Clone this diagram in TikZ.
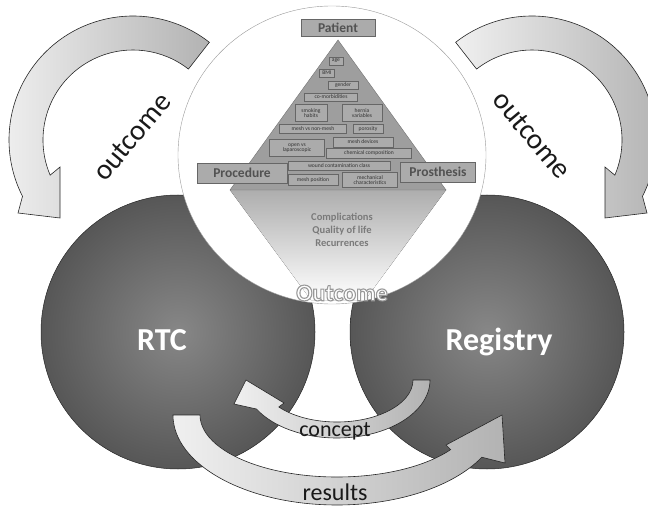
\documentclass[tikz,border=0pt]{standalone}
\usepackage{fontspec}
\setmainfont{Carlito}
\usepackage{tikz}
\usetikzlibrary{calc,shapes.geometric}
\tikzset{blob/.style={circle,draw=black!85,line width=0.5pt,shading=radial,inner color=black!47,outer color=black!66,inner sep=0pt},
  studylbl/.style={text=white,font=\bfseries\fontsize{32}{34}\selectfont},
  item/.style={draw=black!60,fill=black!33,inner sep=0.4pt,align=center,text=black!80,font=\fontsize{5.6}{5.8}\selectfont},
  mainbox/.style={item,font=\bfseries\fontsize{13.5}{14}\selectfont,text=black!68},
  band/.style={draw=black!85,line width=0.6pt,left color=black!6,right color=black!30},
  arrlbl/.style={text=black!90,font=\fontsize{#1}{#1}\selectfont},
  outc/.style={text=white,font=\bfseries\fontsize{24}{26}\selectfont}}
% white word with a grey rim (fill and stroke the glyphs)
\newcommand\rimtext[1]{\special{pdf:literal 2 Tr 1.1 w 0.6 G}#1\special{pdf:literal 0 Tr 0 G}}

\begin{document}
\begin{tikzpicture}[x=1pt,y=1pt]
\useasboundingbox (0,0) rectangle (648,507);
% the two kinds of study
\node[blob,minimum size=274] (rtc) at (178,175) {};
\node[blob,minimum size=274] (reg) at (487,175) {};
\node[studylbl,anchor=base] (rtclbl) at (162,157) {RTC};
\node[studylbl,anchor=base] (reglbl) at (499,157) {Registry};

% white disc with the pyramid
\node[ellipse,draw=black!40,fill=white,minimum width=308,minimum height=298,inner sep=0pt] (disc) at (332,352) {};
\fill[top color=black!32,bottom color=white] (230,317) -- (446,317) -- (365,207) -- (311,207) -- cycle;
\filldraw[fill=black!38,draw=black!55] (338,467) -- (446,317) -- (230,317) -- cycle;

\node[mainbox,minimum width=74,minimum height=17] (patient) at (338,479) {Patient};
\node[item,minimum width=14,minimum height=8] (age) at (336,446) {age};
\node[item,minimum width=15,minimum height=8] (bmi) at (327,434) {BMI};
\node[item,minimum width=30,minimum height=8] (gender) at (343,422) {gender};
\node[item,minimum width=53,minimum height=8] (comorb) at (331,410) {co-morbidities};
\node[item,minimum width=32,minimum height=17] (smoke) at (311,394) {smoking\\habits};
\node[item,minimum width=40,minimum height=17] (hernia) at (362,394) {hernia\\variables};
\node[item,minimum width=67,minimum height=9] (meshvs) at (313,378) {mesh vs non-mesh};
\node[item,minimum width=30,minimum height=9] (poros) at (368,378) {porosity};
\node[item,minimum width=60,minimum height=10] (meshdev) at (363,365) {mesh devices};
\node[item,minimum width=55,minimum height=17] (openlap) at (297,359) {open vs\\laparoscopic};
\node[item,minimum width=85,minimum height=10] (chem) at (369,354) {chemical composition};
\node[item,minimum width=102,minimum height=9] (wound) at (339,341) {wound contamination class};
\node[mainbox,minimum width=90,minimum height=20] (proc) at (242,334) {Procedure};
\node[item,minimum width=50,minimum height=11] (meshpos) at (313,327) {mesh position};
\node[item,minimum width=55,minimum height=15] (mech) at (370,327) {mechanical\\characteristics};
\node[mainbox,minimum width=75,minimum height=20] (prosth) at (438,335) {Prosthesis};

\node[align=center,text=black!52,font=\bfseries\fontsize{10.5}{13}\selectfont] (res) at (342,277) {Complications\\Quality of life\\Recurrences};
\node[outc] (outcome) at (342,214) {\rimtext{Outcome}};

% curved arrows
\coordinate (cL) at (133,367);
\coordinate (cR) at (532,367);
\coordinate (cC) at (337,127);
\coordinate (cS) at (337,92);
\draw[band] (cL) ++(52:124) arc[start angle=52,end angle=207,radius=124]
  -- (18,294) -- (60,289) -- (60,340) -- ($(cL)+(203:90)$) arc[start angle=203,end angle=52,radius=90] -- cycle;
\draw[band] (cR) ++(128:124) arc[start angle=128,end angle=-27,radius=124]
  -- (647,294) -- (605,289) -- (605,340) -- ($(cR)+(-23:90)$) arc[start angle=-23,end angle=128,radius=90] -- cycle;
\draw[band] (cC) ++(93,0) arc[start angle=0,end angle=-150,x radius=93,y radius=58]
  -- (234,103) -- (246,127) -- (284,104) -- ($(cC)+({76*cos(-140)},{42*sin(-140)})$)
  arc[start angle=-140,end angle=0,x radius=76,y radius=42] -- cycle;
\draw[band] (cS) ++(-164,0) arc[start angle=180,end angle=332,x radius=164,y radius=90]
  -- (505,44) -- (502,92) -- (446,62) -- ($(cS)+({137*cos(326)},{62*sin(326)})$)
  arc[start angle=326,end angle=180,x radius=137,y radius=62] -- cycle;

\node[arrlbl=29,rotate=50] (outL) at (132,370) {outcome};
\node[arrlbl=29,rotate=-50] (outR) at (532,372) {outcome};
\node[arrlbl=22,anchor=base] (concept) at (335,71) {concept};
\node[arrlbl=24,anchor=base] (results) at (335,7) {results};
\end{tikzpicture}
\end{document}
